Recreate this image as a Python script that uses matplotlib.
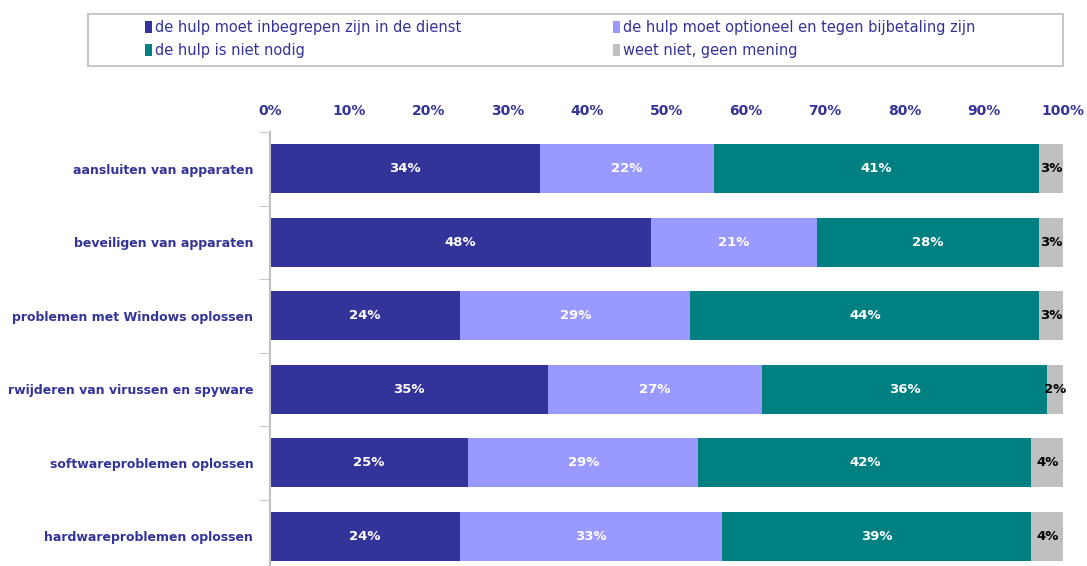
import matplotlib.pyplot as plt
from matplotlib.patches import Rectangle
import numpy as np

categories = [
    'aansluiten van apparaten',
    'beveiligen van apparaten',
    'problemen met Windows oplossen',
    'rwijderen van virussen en spyware',
    'softwareproblemen oplossen',
    'hardwareproblemen oplossen',
]
series_names = [
    'de hulp moet inbegrepen zijn in de dienst',
    'de hulp moet optioneel en tegen bijbetaling zijn',
    'de hulp is niet nodig',
    'weet niet, geen mening',
]
inbegrepen = [34, 48, 24, 35, 25, 24]
optioneel = [22, 21, 29, 27, 29, 33]
niet_nodig = [41, 28, 44, 36, 42, 39]
weet_niet = [3, 3, 3, 2, 4, 4]

colors = ['#333399', '#9999FF', '#008080', '#C0C0C0']
label_colors = ['white', 'white', 'white', 'black']
navy = '#333399'

W, H = 1087, 566
fig = plt.figure(figsize=(W / 100, H / 100), dpi=100)
ax = fig.add_axes([270 / W, 1 - 573 / H, (1063 - 270) / W, (573 - 132) / H])

y = np.arange(len(categories))
left = np.zeros(len(categories))
handles = []
for vals, col, lcol, name in zip([inbegrepen, optioneel, niet_nodig, weet_niet],
                                 colors, label_colors, series_names):
    vals = np.array(vals, dtype=float)
    bars = ax.barh(y, vals, left=left, height=0.66, color=col, label=name)
    handles.append(bars)
    for yi, l, v in zip(y, left, vals):
        ax.text(l + v / 2, yi, f'{int(v)}%', ha='center', va='center',
                color=lcol, fontsize=9.5, fontweight='bold')
    left += vals

ax.set_xlim(0, 100)
ax.set_ylim(len(categories) - 0.5, -0.5)
ax.set_xticks(np.arange(0, 101, 10))
ax.set_xticklabels([f'{v}%' for v in range(0, 101, 10)])
ax.xaxis.tick_top()
ax.tick_params(axis='x', length=0, pad=10, labelsize=10, labelcolor=navy)
for t in ax.get_xticklabels():
    t.set_fontweight('bold')

ax.set_yticks(y)
ax.set_yticklabels(categories)
ax.set_yticks(np.arange(-0.5, len(categories), 1), minor=True)
ax.tick_params(axis='y', which='major', length=0, pad=12, labelsize=9, labelcolor=navy)
ax.tick_params(axis='y', which='minor', length=8, color='#c0c0c0', direction='out')
for t in ax.get_yticklabels():
    t.set_fontweight('bold')

for side in ['top', 'right', 'bottom']:
    ax.spines[side].set_visible(False)
ax.spines['left'].set_color('#c0c0c0')
ax.spines['left'].set_linewidth(1.5)

# legend box drawn separately, entries laid out row by row
fig.patches.append(Rectangle((88 / W, 1 - 66 / H), (1063 - 88) / W, 52 / H,
                             transform=fig.transFigure, facecolor='white',
                             edgecolor='#c8c8c8', linewidth=1.5))
order = [0, 2, 1, 3]
leg = fig.legend([handles[i] for i in order], [series_names[i] for i in order],
                 loc='upper left', bbox_to_anchor=(145 / W, 1 - 20 / H),
                 ncol=2, frameon=False, fontsize=10.5,
                 handlelength=0.45, handleheight=0.8, handletextpad=0.25,
                 labelspacing=0.55, borderaxespad=0, borderpad=0,
                 columnspacing=10.4)
for t in leg.get_texts():
    t.set_color(navy)

fig.savefig('out.png', dpi=100)
